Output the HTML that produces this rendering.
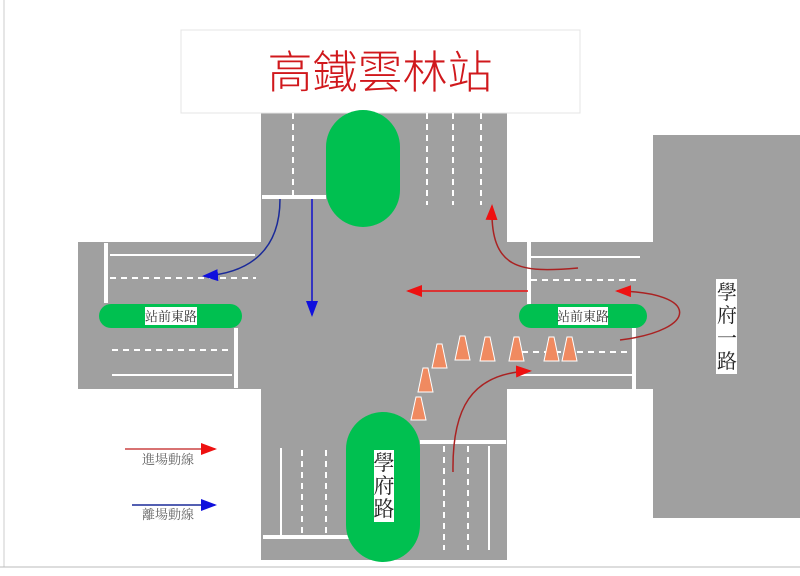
<!DOCTYPE html>
<html><head><meta charset="utf-8"><style>
body{margin:0;width:800px;height:571px;overflow:hidden;background:#fff}
text{font-family:"Liberation Serif","Noto Serif CJK SC",serif}
</style></head><body>
<svg width="800" height="571" xmlns="http://www.w3.org/2000/svg">
<defs>
<marker id="R" markerWidth="16" markerHeight="12" refX="14" refY="6" orient="auto" markerUnits="userSpaceOnUse"><path d="M0,0 L16,6 L0,12 Z" fill="#ee1111"/></marker>
<marker id="B" markerWidth="16" markerHeight="12" refX="14" refY="6" orient="auto" markerUnits="userSpaceOnUse"><path d="M0,0 L16,6 L0,12 Z" fill="#1010dd"/></marker>
</defs>
<line x1="4" y1="0" x2="4" y2="567" stroke="#ccc"/>
<line x1="0" y1="567" x2="800" y2="567" stroke="#bbb"/>
<g fill="#a0a0a0">
<rect x="261" y="113" width="246" height="447"/>
<rect x="78" y="242" width="575" height="147"/>
<rect x="653" y="135" width="147" height="383"/>
</g>
<rect x="181" y="30" width="399" height="83" fill="#fff" stroke="#e4e4e4"/>
<text x="380" y="88" font-size="45" fill="#d0181c" text-anchor="middle" style="font-family:'Noto Sans CJK TC',sans-serif;font-weight:300">高鐵雲林站</text>
<g stroke="#fff" fill="none">
<g stroke-width="2" stroke-dasharray="6,5">
<line x1="293" y1="113" x2="293" y2="196"/>
<line x1="427" y1="113" x2="427" y2="205"/>
<line x1="453" y1="113" x2="453" y2="205"/>
<line x1="481" y1="113" x2="481" y2="205"/>
<line x1="110" y1="278" x2="256" y2="278"/>
<line x1="112" y1="350" x2="232" y2="350"/>
<line x1="531" y1="280" x2="640" y2="280"/>
<line x1="522" y1="352" x2="632" y2="352"/>
<line x1="302" y1="450" x2="302" y2="535"/>
<line x1="326" y1="450" x2="326" y2="535"/>
<line x1="444" y1="446" x2="444" y2="550"/>
<line x1="468" y1="446" x2="468" y2="550"/>
</g>
<g stroke-width="2">
<line x1="110" y1="255" x2="255" y2="255"/>
<line x1="112" y1="375" x2="232" y2="375"/>
<line x1="531" y1="257" x2="640" y2="257"/>
<line x1="520" y1="375" x2="632" y2="375"/>
<line x1="281" y1="448" x2="281" y2="535"/>
<line x1="489" y1="446" x2="489" y2="550"/>
</g>
</g>
<g fill="#fff">
<rect x="262" y="195" width="64" height="4"/>
<rect x="104" y="243" width="4" height="60"/>
<rect x="234" y="328" width="4" height="60"/>
<rect x="527" y="242" width="4" height="62"/>
<rect x="632" y="328" width="4" height="62"/>
<rect x="263" y="535" width="86" height="4"/>
<rect x="420" y="440" width="86" height="4"/>
</g>
<g fill="#00c050">
<rect x="326" y="110" width="74" height="117" rx="37"/>
<rect x="346" y="412" width="74" height="150" rx="37"/>
<rect x="99" y="304" width="143" height="24" rx="12"/>
<rect x="519" y="304" width="128" height="24" rx="12"/>
</g>
<rect x="145" y="307" width="52" height="18" fill="#fff"/>
<text x="171" y="321" font-size="13" text-anchor="middle" fill="#333">站前東路</text>
<rect x="558" y="307" width="50" height="18" fill="#fff"/>
<text x="583" y="321" font-size="13" text-anchor="middle" fill="#333">站前東路</text>
<rect x="716" y="279" width="21" height="95" fill="#fff"/>
<text font-size="20" fill="#222" text-anchor="middle"><tspan x="727" y="299">學</tspan><tspan x="727" y="322">府</tspan><tspan x="727" y="345">一</tspan><tspan x="727" y="368">路</tspan></text>
<rect x="374" y="450" width="20" height="72" fill="#fff"/>
<text font-size="21" fill="#222" text-anchor="middle"><tspan x="384" y="470">學</tspan><tspan x="384" y="493">府</tspan><tspan x="384" y="516">路</tspan></text>
<g fill="#f08a60" stroke="#fff" stroke-width="1">
<path d="M411,420 L416,397 L421,397 L426,420 Z"/>
<path d="M418,392 L423,368 L428,368 L433,392 Z"/>
<path d="M432,368 L437,344 L442,344 L447,368 Z"/>
<path d="M455,360 L460,336 L465,336 L470,360 Z"/>
<path d="M480,361 L485,337 L490,337 L495,361 Z"/>
<path d="M509,361 L514,337 L519,337 L524,361 Z"/>
<path d="M544,361 L549,337 L554,337 L559,361 Z"/>
<path d="M562,361 L567,337 L572,337 L577,361 Z"/>
</g>
<g fill="none" stroke-width="1.5">
<line x1="528" y1="291" x2="408" y2="291" stroke="#ee1111" marker-end="url(#R)"/>
<path d="M620,340 C700,330 700,292 617,291" stroke="#aa2222" marker-end="url(#R)"/>
<path d="M578,268 C520,273 490,270 492,206" stroke="#aa2222" marker-end="url(#R)"/>
<path d="M453,472 C452,410 470,373 530,371" stroke="#aa2222" marker-end="url(#R)"/>
<line x1="125" y1="449" x2="215" y2="449" stroke="#cc4444" marker-end="url(#R)"/>
<line x1="312" y1="199" x2="312" y2="315" stroke="#1010cc" marker-end="url(#B)"/>
<path d="M280,199 C280,250 250,273 204,276" stroke="#1a2a99" marker-end="url(#B)"/>
<line x1="132" y1="505" x2="215" y2="505" stroke="#1a2a99" marker-end="url(#B)"/>
</g>
<text x="168" y="464" font-size="13" fill="#666" text-anchor="middle">進場動線</text>
<text x="168" y="519" font-size="13" fill="#666" text-anchor="middle">離場動線</text>
</svg>
</body></html>
